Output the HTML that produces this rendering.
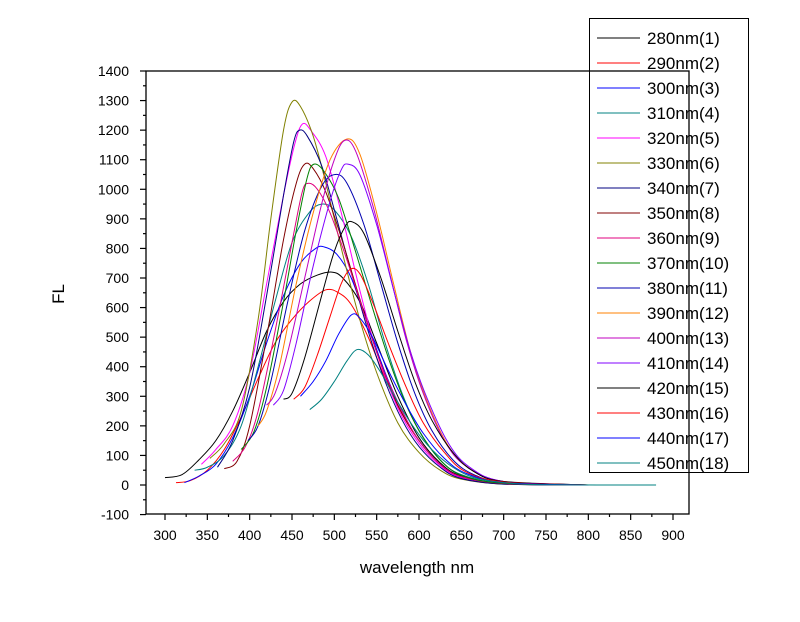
<!DOCTYPE html>
<html><head><meta charset="utf-8"><style>
body{margin:0;background:#fff;}
svg text{font-family:"Liberation Sans",Arial,sans-serif;}
</style></head><body>
<svg id="chart" width="800" height="617" xmlns="http://www.w3.org/2000/svg">
<rect width="800" height="617" fill="#fff"/>
<g id="plot"></g>
<g id="axes"></g>
<g id="legend"></g>
</svg>
<script>
const xTicks=[300,350,400,450,500,550,600,650,700,750,800,850,900];
const yTicks=[-100,0,100,200,300,400,500,600,700,800,900,1000,1100,1200,1300,1400];
const seriesNames=["280nm(1)","290nm(2)","300nm(3)","310nm(4)","320nm(5)","330nm(6)","340nm(7)","350nm(8)","360nm(9)","370nm(10)","380nm(11)","390nm(12)","400nm(13)","410nm(14)","420nm(15)","430nm(16)","440nm(17)","450nm(18)"];
const seriesColors=["#000000","#ff0000","#0000ff","#008080","#ff00ff","#808000","#000080","#800000","#e0007f","#008000","#0000b0","#ff8000","#c000c0","#8000ff","#000000","#ff0000","#0000ff","#008080"];
const s1=[[300,25],[320,35],[340,85],[360,150],[380,250],[400,380],[420,520],[440,620],[460,680],[480,710],[497,720],[510,700],[530,620],[550,480],[575,300],[600,160],[625,75],[650,30],[700,5],[800,0]];
const s2=[[313,8],[330,15],[350,50],[370,120],[390,230],[410,360],[430,480],[450,560],[470,620],[490,660],[505,650],[520,610],[540,500],[560,360],[580,240],[600,150],[625,70],[650,28],[700,5],[800,0]];
const s3=[[323,8],[340,30],[360,70],[380,160],[400,300],[420,480],[440,640],[460,750],[478,800],[488,805],[503,780],[520,700],[540,540],[560,380],[580,250],[600,150],[625,70],[650,28],[700,5],[800,0]];
const s4=[[335,50],[350,60],[370,100],[390,200],[410,400],[430,620],[450,820],[470,920],[485,950],[500,930],[520,840],[540,680],[560,480],[580,310],[600,185],[625,85],[650,35],[700,5],[800,0]];
const s5=[[343,70],[360,120],[380,200],[400,380],[420,680],[440,980],[453,1150],[462,1220],[472,1200],[490,1110],[510,900],[530,660],[550,450],[575,260],[600,140],[625,65],[650,25],[700,4],[800,0]];
const s6=[[353,90],[370,140],[390,250],[410,560],[425,900],[440,1200],[450,1295],[460,1280],[475,1180],[490,1020],[510,780],[530,560],[550,380],[575,210],[600,110],[625,50],[650,20],[700,3],[800,0]];
const s7=[[362,60],[380,150],[400,330],[420,640],[440,980],[452,1160],[459,1200],[468,1180],[485,1080],[500,930],[520,720],[540,520],[560,350],[580,220],[600,130],[625,60],[650,22],[700,3],[800,0]];
const s8=[[370,55],[385,80],[400,200],[420,500],[440,830],[455,1020],[465,1085],[475,1070],[490,990],[510,820],[530,630],[550,450],[575,270],[600,150],[625,70],[650,28],[700,5],[800,0]];
const s9=[[380,80],[395,130],[410,250],[430,520],[450,820],[462,990],[469,1020],[480,1000],[495,920],[515,760],[535,580],[555,410],[580,250],[600,150],[625,70],[650,28],[700,5],[800,0]];
const s10=[[390,120],[405,180],[420,330],[440,620],[455,860],[468,1040],[476,1085],[488,1060],[505,970],[525,790],[545,600],[565,420],[585,270],[605,160],[630,70],[655,28],[700,6],[800,0]];
const s11=[[398,150],[410,200],[425,350],[445,620],[465,860],[485,1010],[501,1050],[515,1020],[535,880],[555,680],[575,480],[595,310],[615,185],[640,85],[665,35],[700,10],[800,0]];
const s12=[[410,200],[420,250],[435,400],[455,680],[475,920],[495,1100],[515,1170],[530,1120],[550,920],[570,680],[590,450],[610,280],[635,130],[660,55],[700,12],[800,0]];
const s13=[[420,270],[430,310],[445,450],[465,700],[485,950],[500,1100],[512,1165],[525,1130],[545,950],[565,720],[585,490],[605,310],[630,150],[655,65],[700,12],[800,0]];
const s14=[[428,270],[440,320],[455,480],[475,740],[495,960],[508,1065],[516,1085],[530,1050],[550,880],[570,660],[590,450],[610,290],[635,140],[660,60],[700,12],[800,0]];
const s15=[[440,290],[450,310],[465,430],[485,640],[500,790],[513,875],[521,890],[535,850],[555,700],[575,520],[595,350],[615,220],[640,110],[665,45],[700,12],[800,0]];
const s16=[[452,290],[465,330],[480,440],[495,570],[508,680],[519,730],[530,715],[545,620],[565,470],[585,330],[605,210],[630,110],[655,45],[700,10],[800,0]];
const s17=[[460,300],[475,350],[490,420],[505,510],[520,575],[530,565],[545,500],[565,380],[585,270],[605,175],[630,90],[655,40],[700,8],[800,0]];
const s18=[[471,255],[485,290],[500,350],[515,420],[527,458],[540,440],[555,380],[575,280],[595,190],[615,120],[640,60],[665,25],[700,8],[750,1],[880,0]];
const seriesData=[s1,s2,s3,s4,s5,s6,s7,s8,s9,s10,s11,s12,s13,s14,s15,s16,s17,s18];

const NS="http://www.w3.org/2000/svg";
const X0=146,X1=689,Y0=71,Y1=514;
function xs(w){return 165+(w-300)*(508/600);}
function ys(v){return 485-v*(414/1400);}
function mk(tag,attrs,parent){const e=document.createElementNS(NS,tag);for(const k in attrs)e.setAttribute(k,attrs[k]);parent.appendChild(e);return e;}
const plot=document.getElementById('plot'),axes=document.getElementById('axes'),legend=document.getElementById('legend');

function pathFor(pts){
  const p=pts.map(d=>[xs(d[0]),ys(d[1])]);
  let s="M"+p[0][0].toFixed(2)+","+p[0][1].toFixed(2);
  for(let i=0;i<p.length-1;i++){
    const a=p[Math.max(0,i-1)],b=p[i],c=p[i+1],d=p[Math.min(p.length-1,i+2)];
    const c1=[b[0]+(c[0]-a[0])/6,b[1]+(c[1]-a[1])/6];
    const c2=[c[0]-(d[0]-b[0])/6,c[1]-(d[1]-b[1])/6];
    s+=" C"+c1[0].toFixed(2)+","+c1[1].toFixed(2)+" "+c2[0].toFixed(2)+","+c2[1].toFixed(2)+" "+c[0].toFixed(2)+","+c[1].toFixed(2);
  }
  return s;
}
seriesData.forEach((pts,i)=>{
  const el=mk('path',{d:pathFor(pts),fill:'none',stroke:seriesColors[i],'stroke-width':1},plot);
  
  
});

// frame
const fr=mk('rect',{x:X0,y:Y0,width:X1-X0,height:Y1-Y0,fill:'none',stroke:'#000','stroke-width':1.3},axes);


// x ticks
xTicks.forEach((t,i)=>{
  const x=xs(t);
  mk('line',{x1:x,y1:Y1,x2:x,y2:Y1+6,stroke:'#000','stroke-width':1.2},axes);
  if(i<xTicks.length-1){const xm=xs(t+25);mk('line',{x1:xm,y1:Y1,x2:xm,y2:Y1+3,stroke:'#000','stroke-width':1.2},axes);}
  const tx=mk('text',{x:x,y:540,'font-size':14,'text-anchor':'middle',fill:'#000'},axes);
  tx.textContent=t;
  
  
});
yTicks.forEach((t,i)=>{
  const y=ys(t);
  mk('line',{x1:X0-6,y1:y,x2:X0,y2:y,stroke:'#000','stroke-width':1.2},axes);
  if(i<yTicks.length-1){const ym=ys(t+50);mk('line',{x1:X0-3,y1:ym,x2:X0,y2:ym,stroke:'#000','stroke-width':1.2},axes);}
  const tx=mk('text',{x:129,y:y+5,'font-size':14,'text-anchor':'end',fill:'#000'},axes);
  tx.textContent=t;
  
  
});
const xt=mk('text',{x:417,y:573,'font-size':17,'text-anchor':'middle'},axes);
xt.textContent="wavelength nm";


const yt=mk('text',{x:0,y:0,'font-size':17,'text-anchor':'middle',transform:'translate(64,294) rotate(-90)'},axes);
yt.textContent="FL";



// legend
const lb=mk('rect',{x:589.5,y:18.5,width:159,height:454,fill:'none',stroke:'#000','stroke-width':1},legend);


seriesNames.forEach((n,i)=>{
  const y=38+i*25;
  const g=mk('g',{},legend);
  
  
  mk('line',{x1:597,y1:y,x2:640,y2:y,stroke:seriesColors[i],'stroke-width':1},g);
  const t=mk('text',{x:647,y:y+6,'font-size':17,fill:'#000'},g);
  t.textContent=n;
});
</script>
</body></html>
